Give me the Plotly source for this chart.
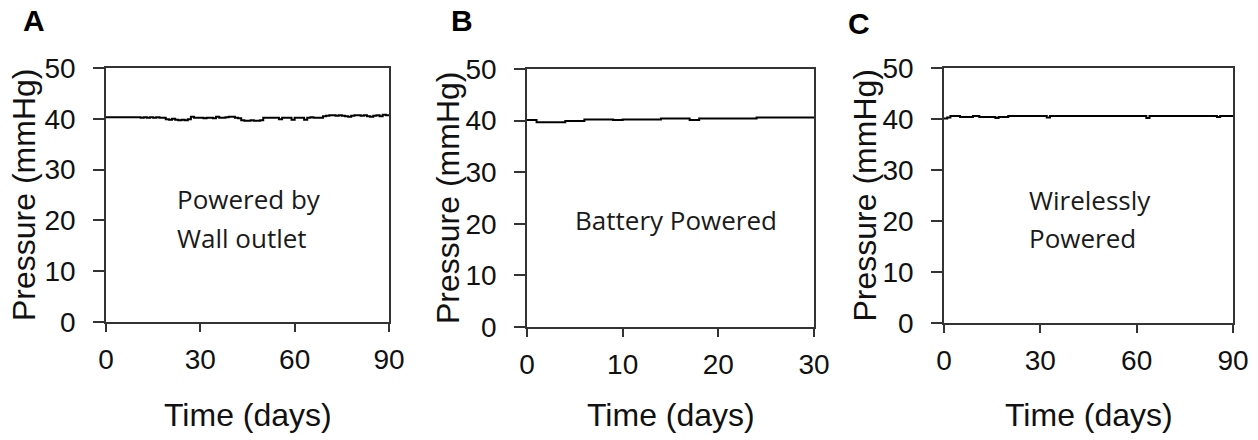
import plotly.graph_objects as go

# ---------------- data ----------------
days_a = list(range(0, 91))
pressure_a = [40.3]*11 + [
    40.2, 40.3, 40.2, 40.3, 40.2, 40.3, 40.2, 40.2,          # 11-18
    39.9, 39.8, 40.0, 39.8, 39.7, 39.8, 39.7, 39.9,          # 19-26
    40.4, 40.2, 40.2, 40.2, 40.1, 40.2, 40.2, 40.1, 40.4,    # 27-35
    40.2, 40.2, 40.3, 40.4, 40.4, 40.2, 40.1,                # 36-42
    39.7, 39.6, 39.6, 39.7, 39.6, 39.6, 39.7,                # 43-49
    40.2, 40.2, 40.2, 40.2, 40.2, 39.9, 40.2, 40.2, 40.2,    # 50-58
    39.8, 40.2, 40.2, 40.2, 39.8, 40.2, 40.3, 40.2, 40.2, 40.2,  # 59-68
    40.5, 40.6, 40.7, 40.7, 40.6, 40.7, 40.6, 40.5, 40.4, 40.6,  # 69-78
    40.7, 40.7, 40.6, 40.7, 40.5, 40.4, 40.6, 40.7, 40.5, 40.8,  # 79-88
    40.7, 40.6]                                                   # 89-90

days_b = list(range(0, 31))
pressure_b = [40.1, 39.7, 39.7, 39.7, 39.9, 39.9, 40.2, 40.2, 40.2, 40.1,
              40.2, 40.2, 40.2, 40.2, 40.4, 40.4, 40.4, 40.1, 40.4, 40.4,
              40.4, 40.4, 40.4, 40.4, 40.6, 40.6, 40.6, 40.6, 40.6, 40.6,
              40.6]

days_c = list(range(0, 91))
pressure_c = [40.1, 40.3, 40.6, 40.6, 40.6, 40.4, 40.4, 40.4, 40.4, 40.6,
              40.6, 40.4, 40.4, 40.4, 40.4, 40.4, 40.2, 40.4, 40.4, 40.4] + \
             [40.6]*12 + [40.3] + [40.6]*30 + [40.2] + [40.6]*21 + [40.4] + [40.6]*5

y_ticks = [0, 10, 20, 30, 40, 50]
x_ticks_90 = [0, 30, 60, 90]
x_ticks_30 = [0, 10, 20, 30]

panel_letters = ["A", "B", "C"]
panel_notes = [["Powered by", "Wall outlet"], ["Battery Powered"], ["Wirelessly", "Powered"]]
x_title = "Time (days)"
y_title = "Pressure (mmHg)"

# ---------------- figure ----------------
OFF = 8                     # page body margin
W, H = 1258 - OFF, 440 - OFF


def px(x):
    return (x - OFF) / W


def py(y):
    return 1 - (y - OFF) / H


fig = go.Figure()

series = [(days_a, pressure_a, "x", "y"),
          (days_b, pressure_b, "x2", "y2"),
          (days_c, pressure_c, "x3", "y3")]
for xs, ys, xa, ya in series:
    fig.add_trace(go.Scatter(x=xs, y=ys, xaxis=xa, yaxis=ya, mode="lines",
                             line=dict(color="black", width=2, shape="hv"),
                             showlegend=False, hoverinfo="skip"))

# pixel boxes in reference coords: (left, right, top, bottom)
boxes = [(106, 389, 68, 322), (527, 814, 69, 327), (944, 1233, 68, 323)]
xranges = [[0, 90], [0, 30], [0, 90]]
xtickvals = [x_ticks_90, x_ticks_30, x_ticks_90]

axis_font = dict(family="Arial, Liberation Sans, sans-serif", size=28, color="#111")
common = dict(showline=True, mirror=True, linecolor="#333", linewidth=1.5,
              ticks="outside", tickcolor="#333", tickwidth=1.5,
              showgrid=False, zeroline=False, tickfont=axis_font, automargin=False)

for i, ((l, r, t, b), xr, xt) in enumerate(zip(boxes, xranges, xtickvals)):
    sfx = "" if i == 0 else str(i + 1)
    fig.update_layout(**{
        "xaxis" + sfx: dict(domain=[px(l), px(r)], range=xr, tickvals=xt,
                            anchor="y" + sfx, ticklen=8, ticklabelstandoff=4, **common),
        "yaxis" + sfx: dict(domain=[py(b), py(t)], range=[0, 50], tickvals=y_ticks,
                            anchor="x" + sfx, ticklen=11, ticklabelstandoff=12, **common),
    })

annotations = []
title_font = dict(family="Arial, Liberation Sans, sans-serif", size=32, color="#111")
note_font = dict(family="Open Sans, sans-serif", size=26, color="#1a1a1a")
ytitle_x = [24, 448, 864]
letter_pos = [(34, 21), (462, 21), (859, 24)]
note_x = [175, 573, 1027]
note_y = [[199, 238], [220], [200, 238]]
for i, (l, r, t, b) in enumerate(boxes):
    annotations.append(dict(text=x_title, x=px((l + r) / 2), y=py(415),
                            xref="paper", yref="paper", showarrow=False,
                            xanchor="center", yanchor="middle", font=title_font))
    annotations.append(dict(text=y_title, x=px(ytitle_x[i]), y=py((t + b) / 2),
                            xref="paper", yref="paper", showarrow=False, textangle=-90,
                            xanchor="center", yanchor="middle", font=title_font))
    lx, ly = letter_pos[i]
    annotations.append(dict(text="<b>%s</b>" % panel_letters[i], x=px(lx), y=py(ly),
                            xref="paper", yref="paper", showarrow=False,
                            xanchor="center", yanchor="middle",
                            font=dict(family="Arial, Liberation Sans, sans-serif", size=30, color="black")))
    for line, ny in zip(panel_notes[i], note_y[i]):
        annotations.append(dict(text=line, x=px(note_x[i]), y=py(ny),
                                xref="paper", yref="paper", showarrow=False,
                                xanchor="left", yanchor="middle", align="left", font=note_font))

fig.update_layout(width=W, height=H, margin=dict(l=0, r=0, t=0, b=0),
                  paper_bgcolor="white", plot_bgcolor="white",
                  annotations=annotations)

fig.write_html("out.html")
